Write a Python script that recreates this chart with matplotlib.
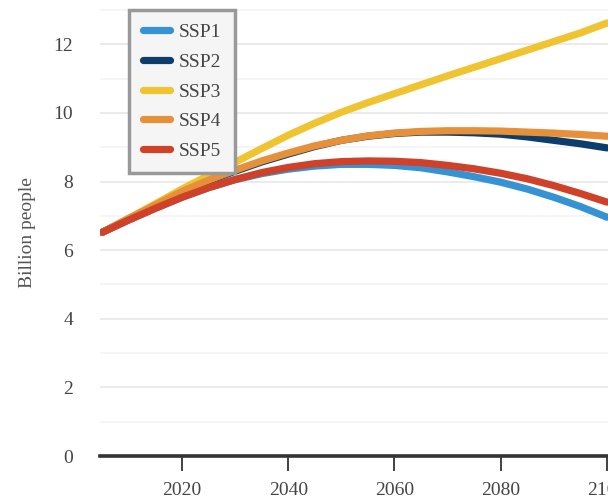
import matplotlib
matplotlib.use("Agg")
import matplotlib.pyplot as plt
from matplotlib.lines import Line2D

years = [2005, 2010, 2015, 2020, 2025, 2030, 2035, 2040, 2045, 2050,
         2055, 2060, 2065, 2070, 2075, 2080, 2085, 2090, 2095, 2100]
ssp1 = [6.52, 6.88, 7.22, 7.54, 7.82, 8.05, 8.23, 8.36, 8.45, 8.50,
        8.50, 8.47, 8.40, 8.28, 8.14, 7.98, 7.78, 7.54, 7.27, 6.96]
ssp2 = [6.52, 6.92, 7.32, 7.70, 8.02, 8.30, 8.57, 8.80, 9.02, 9.20,
        9.32, 9.40, 9.44, 9.44, 9.42, 9.38, 9.30, 9.20, 9.10, 8.98]
ssp3 = [6.52, 6.93, 7.35, 7.78, 8.18, 8.56, 8.96, 9.35, 9.70, 10.02,
        10.30, 10.56, 10.82, 11.08, 11.33, 11.58, 11.83, 12.08, 12.33, 12.62]
ssp4 = [6.52, 6.92, 7.32, 7.71, 8.04, 8.33, 8.60, 8.83, 9.04, 9.20,
        9.33, 9.41, 9.46, 9.48, 9.48, 9.47, 9.44, 9.41, 9.37, 9.32]
ssp5 = [6.52, 6.88, 7.22, 7.54, 7.82, 8.06, 8.26, 8.41, 8.52, 8.58,
        8.60, 8.59, 8.55, 8.47, 8.37, 8.24, 8.08, 7.88, 7.65, 7.40]
series_names = ["SSP1", "SSP2", "SSP3", "SSP4", "SSP5"]
series_values = [ssp1, ssp2, ssp3, ssp4, ssp5]
colors = ["#3592d3", "#0d3d6b", "#f0c330", "#e6913a", "#cf4128"]
x_ticks = [2020, 2040, 2060, 2080, 2100]
y_ticks = [0, 2, 4, 6, 8, 10, 12]

plt.rcParams['font.family'] = ['Liberation Serif', 'DejaVu Serif']

W, H = 608, 498
FS = 14
fig = plt.figure(figsize=(W / 100, H / 100), dpi=100)
ax = fig.add_axes([100 / W, 42 / H, 1 - 100 / W, 1 - 42 / H])

for name, vals, c in zip(series_names, series_values, colors):
    ax.plot(years, vals, color=c, lw=5.2, solid_capstyle='round',
            solid_joinstyle='round', label=name, zorder=3)

ax.set_xlim(2004.56, 2100.2)
ax.set_ylim(0, 13.29)

# gridlines
for v in range(1, 14):
    ax.axhline(v, color='#e8e8e8' if v % 2 == 0 else '#f3f3f3', lw=1.2, zorder=1)

for s in ['top', 'right', 'left']:
    ax.spines[s].set_visible(False)
ax.spines['bottom'].set_color('#333333')
ax.spines['bottom'].set_linewidth(2.6)
ax.spines['bottom'].set_zorder(4)

ax.set_xticks(x_ticks)
ax.set_xticklabels([str(t) for t in x_ticks])
ax.set_yticks(y_ticks)
ax.set_yticklabels([str(t) for t in y_ticks])
ax.tick_params(axis='x', length=11, width=1.3, color='#333333', pad=8,
               labelsize=FS, labelcolor='#444444')
ax.tick_params(axis='y', length=0, pad=19.5, labelsize=FS, labelcolor='#444444')

fig.text(28 / W, 1 - 233 / H, "Billion people", rotation=90, ha='center',
         va='center', fontsize=FS, color='#555555')

handles = [Line2D([0], [0], color=c, lw=5.2, solid_capstyle='round') for c in colors]
leg = ax.legend(handles, series_names, loc='upper left',
                bbox_to_anchor=(129 / W, 1 - 10 / H), bbox_transform=fig.transFigure,
                frameon=True, fancybox=False, fontsize=FS, handlelength=1.4,
                handletextpad=0.46, labelspacing=0.62, borderpad=0.7,
                borderaxespad=0)
leg.get_frame().set_edgecolor('#999999')
leg.get_frame().set_linewidth(2.5)
leg.get_frame().set_facecolor('#f5f5f5')
leg.get_frame().set_alpha(1)
leg.set_zorder(5)
for t in leg.get_texts():
    t.set_color('#444444')

fig.savefig("out.png", dpi=100)
